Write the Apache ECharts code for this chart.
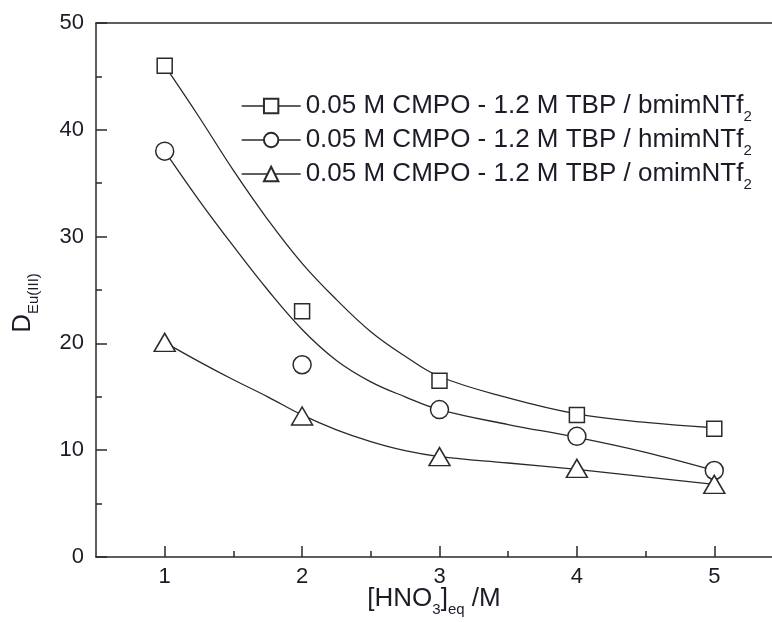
<!DOCTYPE html>
<html><head><meta charset="utf-8">
<script src="https://cdn.jsdelivr.net/npm/echarts@6/dist/echarts.min.js"></script>
<style>html,body{margin:0;padding:0;background:#fff}#c{width:772px;height:622px}</style>
</head><body><div id="c"></div>
<script>
// measured points
const xValues = [1, 2, 3, 4, 5];
const bmimPoints = [46.0, 23.0, 16.5, 13.3, 12.0];
const hmimPoints = [38.0, 18.0, 13.8, 11.3, 8.1];
const omimPoints = [20.1, 13.2, 9.4, 8.3, 6.8];
// fitted curves
const fitX = [1, 1.25, 1.5, 1.75, 2, 2.25, 2.5, 2.75, 3, 3.5, 4, 4.5, 5];
const bmimFit = [46.0, 41.2, 36.2, 31.6, 27.5, 24.1, 21.1, 18.8, 16.9, 14.9, 13.4, 12.6, 12.1];
const hmimFit = [38.0, 33.4, 29.1, 25.0, 21.3, 18.4, 16.4, 15.0, 13.8, 12.4, 11.2, 9.8, 8.1];
const omimFit = [20.1, 18.3, 16.6, 15.0, 13.3, 11.9, 10.8, 9.95, 9.4, 8.8, 8.2, 7.5, 6.8];
const seriesNames = ['0.05 M CMPO - 1.2 M TBP / bmimNTf', '0.05 M CMPO - 1.2 M TBP / hmimNTf', '0.05 M CMPO - 1.2 M TBP / omimNTf'];
const xTickValues = [1, 2, 3, 4, 5];
const xMinorTickValues = [1.5, 2.5, 3.5, 4.5];

const FONT = '"Liberation Sans", Arial, Helvetica, sans-serif';
const INK = '#2a2a2a';
const TXT = '#1c1c28';
const pair = (xs, ys) => xs.map((x, i) => [x, ys[i]]);

const pointSets = [bmimPoints, hmimPoints, omimPoints];
const fitSets = [bmimFit, hmimFit, omimFit];
const symbols = ['rect', 'circle', 'triangle'];
const symbolSizes = [15, 18, [21, 18]];

const series = [];
fitSets.forEach((f, i) => {
  series.push({
    name: 'fit' + i, type: 'line', data: pair(fitX, f), smooth: 0.4, showSymbol: false,
    symbol: 'none', lineStyle: { color: INK, width: 1.3 }, z: 2, silent: true
  });
});
pointSets.forEach((p, i) => {
  series.push({
    name: seriesNames[i], type: 'line', data: pair(xValues, p),
    symbol: symbols[i], symbolSize: symbolSizes[i], showSymbol: true,
    lineStyle: { opacity: 0, color: INK, width: 1.3 },
    itemStyle: { color: '#fff', borderColor: INK, borderWidth: 1.5 },
    z: 3
  });
});

const axisLineStyle = { color: INK, width: 1.5 };
const richSub = { fontSize: 15, lineHeight: 8, verticalAlign: 'bottom', fontFamily: FONT, color: TXT };
const richMain = { fontSize: 26, lineHeight: 36, fontFamily: FONT, color: TXT };
const chart = echarts.init(document.getElementById('c'));
chart.setOption({
  animation: false,
  backgroundColor: '#fff',
  grid: { left: 96, top: 23, right: 0, bottom: 65, outerBoundsMode: 'none', containLabel: false },
  legend: {
    orient: 'vertical', left: 241, top: 88, padding: 0, itemGap: -2,
    itemWidth: 59, itemHeight: 18,
    data: seriesNames,
    lineStyle: { color: INK, width: 1.3, opacity: 1 },
    formatter: n => '{a|' + n + '}{s|2}',
    textStyle: {
      fontFamily: FONT, color: TXT, fontSize: 26, lineHeight: 36,
      rich: { a: richMain, s: richSub }
    }
  },
  xAxis: [{
    type: 'value', min: 0.5, max: 5.42, position: 'bottom',
    axisLine: { lineStyle: axisLineStyle },
    axisTick: { inside: true, length: 11, customValues: xTickValues, lineStyle: axisLineStyle },
    axisLabel: { customValues: xTickValues, fontSize: 22, margin: 9, color: TXT, fontFamily: FONT },
    splitLine: { show: false },
    name: '[HNO{s|3}]{s|eq} /M', nameLocation: 'middle', nameGap: 24, nameMoveOverlap: false,
    nameTextStyle: {
      fontSize: 26, color: TXT, fontFamily: FONT, lineHeight: 36,
      rich: { a: richMain, s: richSub }
    }
  }, {
    type: 'value', min: 0.5, max: 5.42, position: 'bottom',
    axisLine: { show: false },
    axisTick: { inside: true, length: 6, customValues: xMinorTickValues, lineStyle: axisLineStyle },
    axisLabel: { show: false },
    splitLine: { show: false }
  }, {
    type: 'value', min: 0.5, max: 5.42, position: 'top',
    axisLine: { show: true, lineStyle: axisLineStyle },
    axisTick: { show: false },
    axisLabel: { show: false },
    splitLine: { show: false }
  }],
  yAxis: {
    type: 'value', min: 0, max: 50, interval: 10,
    axisLine: { show: true, lineStyle: axisLineStyle },
    axisTick: { inside: true, length: 11, lineStyle: axisLineStyle },
    minorTick: { show: true, splitNumber: 2, length: 6, lineStyle: axisLineStyle },
    axisLabel: { fontSize: 22, margin: 12, color: TXT, fontFamily: FONT },
    splitLine: { show: false },
    name: '{a|D}{s|Eu(III)}', nameLocation: 'middle', nameGap: 55, nameMoveOverlap: false,
    nameTextStyle: {
      color: TXT, fontFamily: FONT, fontSize: 26, lineHeight: 36, padding: [0, 26, 0, 0],
      rich: { a: richMain, s: richSub }
    }
  },
  series: series
});
</script></body></html>
